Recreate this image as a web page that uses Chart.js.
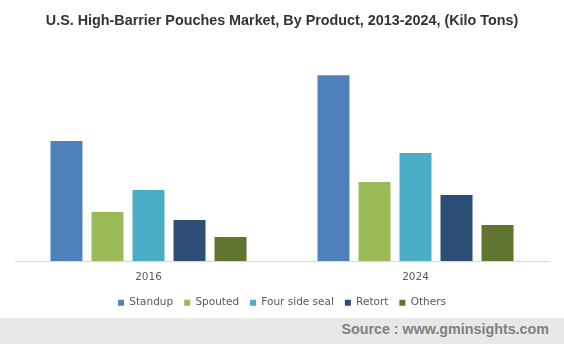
<!DOCTYPE html>
<html>
<head>
<meta charset="utf-8">
<script src="https://cdn.jsdelivr.net/npm/chart.js@4"></script>
<style>
  html, body { margin: 0; padding: 0; background: #ffffff; }
  #wrap { position: relative; width: 564px; height: 318px; }
  #source { width: 564px; height: 26px; background: #e8e8e8; position: relative; }
  #source span { position: absolute; right: 15px; top: 3px; font: bold 14.3px "Liberation Sans", Arial, sans-serif; color: #808080; }
</style>
</head>
<body>
<div id="wrap"><canvas id="c" width="564" height="318"></canvas></div>
<div id="source"><span>Source : www.gminsights.com</span></div>
<script>
const categories = ["2016", "2024"];
const seriesNames = ["Standup", "Spouted", "Four side seal", "Retort", "Others"];
const standup = [120, 186];
const spouted = [49, 79];
const fourSideSeal = [71, 108];
const retort = [41, 66];
const others = [24, 36];
const colors = ["#4f81bd", "#9bbb59", "#4bacc6", "#2c4d75", "#5f7530"];
const titleText = "U.S. High-Barrier Pouches Market, By Product, 2013-2024, (Kilo Tons)";

const values = [standup, spouted, fourSideSeal, retort, others];
const datasets = seriesNames.map((n, i) => ({
  label: n,
  data: values[i],
  backgroundColor: colors[i],
  borderWidth: 0,
  categoryPercentage: 0.768,
  barPercentage: 0.78
}));

new Chart(document.getElementById("c"), {
  type: "bar",
  data: { labels: categories, datasets },
  options: {
    responsive: false,
    animation: false,
    layout: { padding: { left: 15, right: 15, top: 0, bottom: 0 } },
    plugins: {
      title: {
        display: true,
        text: titleText,
        color: "#333333",
        font: { family: "Liberation Sans", size: 14.35, weight: "bold" },
        padding: { top: 12, bottom: 8 }
      },
      legend: {
        position: "bottom",
        labels: {
          boxWidth: 6, boxHeight: 6, padding: 11,
          color: "#595959",
          font: { family: "DejaVu Sans", size: 10.5 }
        }
      },
      tooltip: { enabled: false }
    },
    scales: {
      x: {
        grid: { display: false, drawTicks: false },
        border: { display: true, color: "#d9d9d9", width: 1 },
        ticks: { color: "#595959", padding: 16, font: { family: "DejaVu Sans", size: 10.5, lineHeight: 0.06 } },
        afterFit(scale) { scale.height = 25.5; }
      },
      y: {
        display: false,
        min: 0,
        max: 224
      }
    }
  }
});
</script>
</body>
</html>
